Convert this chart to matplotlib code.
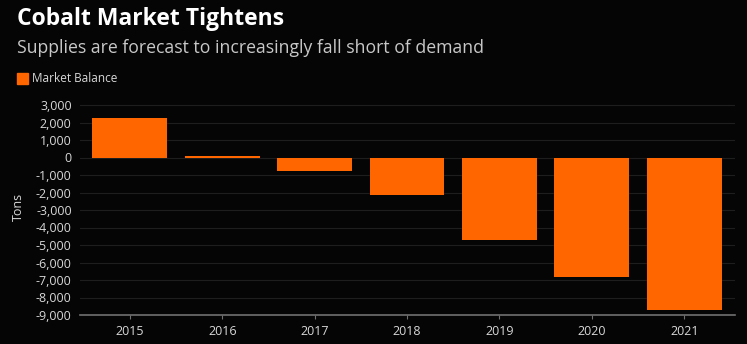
import matplotlib
matplotlib.use("Agg")
import matplotlib.pyplot as plt
from matplotlib.ticker import FuncFormatter

years = ["2015", "2016", "2017", "2018", "2019", "2020", "2021"]
balance = [2250, 100, -750, -2150, -4700, -6800, -8700]
yticks = list(range(-9000, 3001, 1000))

bg = "#050505"
orange = "#ff6600"
txt = "#d8d8d8"

plt.rcParams["font.family"] = ["Open Sans", "DejaVu Sans"]

fig = plt.figure(figsize=(7.47, 3.44), dpi=100, facecolor=bg)
ax = fig.add_axes([80 / 747, 1 - 315 / 344, (735 - 80) / 747, (315 - 98) / 344], facecolor=bg)

x = list(range(len(years)))
ax.bar(x, balance, width=0.81, color=orange, zorder=3)

ax.set_xlim(-0.54, 6.55)
ax.set_ylim(-9000, 3400)
ax.set_yticks(yticks)
ax.yaxis.set_major_formatter(FuncFormatter(lambda v, p: f"{int(v):,}"))
ax.set_xticks(x)
ax.set_xticklabels(years)

ax.grid(axis="y", color="#1e1e1e", linewidth=0.8, zorder=0)
for s in ["top", "right", "left"]:
    ax.spines[s].set_visible(False)
ax.spines["bottom"].set_color("#707070")
ax.spines["bottom"].set_linewidth(1.2)
ax.tick_params(axis="y", length=0, colors=txt, labelsize=9, pad=6)
ax.tick_params(axis="x", length=3, color="#707070", colors=txt, labelsize=9, pad=4)
ax.set_ylabel("Tons", color=txt, fontsize=9, labelpad=8)

fig.text(17 / 747, 1 - 19 / 344, "Cobalt Market Tightens", color="white",
         fontsize=16.5, fontweight="bold", va="center", ha="left")
fig.text(17 / 747, 1 - 48 / 344, "Supplies are forecast to increasingly fall short of demand",
         color="#c8c8c8", fontsize=12.7, va="center", ha="left")
fig.patches.append(plt.Rectangle((17 / 747, 1 - 84 / 344), 11 / 747, 11 / 344,
                                 transform=fig.transFigure, color=orange, figure=fig))
fig.text(32 / 747, 1 - 79 / 344, "Market Balance", color=txt, fontsize=8.5,
         va="center", ha="left")

fig.savefig("out.png", dpi=100, facecolor=bg)
